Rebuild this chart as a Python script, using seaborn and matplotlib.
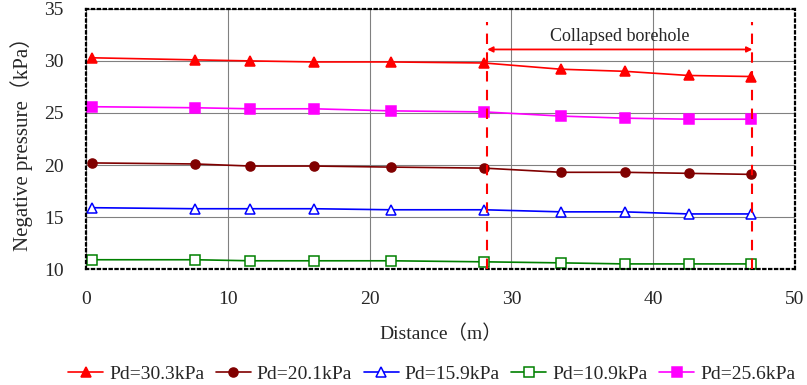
import pandas as pd
import numpy as np
import matplotlib
matplotlib.use('Agg')
import matplotlib.pyplot as plt
import seaborn as sns

distance = [0.4, 7.7, 11.6, 16.1, 21.5, 28.1, 33.5, 38.0, 42.5, 46.9]
pd303 = [30.3, 30.1, 30.0, 29.9, 29.9, 29.8, 29.2, 29.0, 28.6, 28.5]
pd201 = [20.2, 20.1, 19.9, 19.9, 19.8, 19.7, 19.3, 19.3, 19.2, 19.1]
pd159 = [15.9, 15.8, 15.8, 15.8, 15.7, 15.7, 15.5, 15.5, 15.3, 15.3]
pd109 = [10.9, 10.9, 10.8, 10.8, 10.8, 10.7, 10.6, 10.5, 10.5, 10.5]
pd256 = [25.6, 25.5, 25.4, 25.4, 25.2, 25.1, 24.7, 24.5, 24.4, 24.4]
labels = ['Pd=30.3kPa', 'Pd=20.1kPa', 'Pd=15.9kPa', 'Pd=10.9kPa', 'Pd=25.6kPa']
collapse_start, collapse_end = 28.3, 47.0

sns.set_style('white')
plt.rcParams['font.family'] = ['Liberation Serif', 'Noto Sans CJK SC']

df = pd.DataFrame({'Distance': distance * 5,
                   'Pressure': pd303 + pd201 + pd159 + pd109 + pd256,
                   'Series': np.repeat(labels, len(distance))})

styles = {
    'Pd=30.3kPa': dict(color='#FF0000', marker='^', mfc='#FF0000'),
    'Pd=20.1kPa': dict(color='#800000', marker='o', mfc='#800000'),
    'Pd=15.9kPa': dict(color='#0000FF', marker='^', mfc='white'),
    'Pd=10.9kPa': dict(color='#008000', marker='s', mfc='white'),
    'Pd=25.6kPa': dict(color='#FF00FF', marker='s', mfc='#FF00FF'),
}

fig, ax = plt.subplots(figsize=(8.07, 3.85), dpi=100)
plt.subplots_adjust(left=0.1066, right=0.985, top=0.977, bottom=0.301)

for lab in labels:
    st = styles[lab]
    sns.lineplot(data=df[df['Series'] == lab], x='Distance', y='Pressure', ax=ax,
                 color=st['color'], marker=st['marker'], markersize=6.5,
                 markerfacecolor=st['mfc'], markeredgecolor=st['color'],
                 markeredgewidth=1.1, linewidth=1.2, label=lab)

ax.vlines([collapse_start, collapse_end], 10, 33.7, colors='#FF0000',
          linestyles=(0, (5, 4)), linewidth=1.5, zorder=5)
ax.annotate('', xy=(collapse_start, 31.1), xytext=(collapse_end, 31.1),
            arrowprops=dict(arrowstyle='<|-|>', color='#FF0000', lw=1.3,
                            mutation_scale=8, shrinkA=0, shrinkB=0))
ax.text((collapse_start + collapse_end) / 2, 32.3, 'Collapsed borehole',
        ha='center', va='center', fontsize=13)

ax.set_xlim(0, 50)
ax.set_ylim(10, 35)
ax.set_xticks(range(0, 51, 10))
ax.set_yticks(range(10, 36, 5))
ax.grid(True, color='#808080', linewidth=0.8)
ax.tick_params(direction='in', length=4, labelsize=14, color='black')
ax.tick_params(axis='x', pad=16)
ax.tick_params(axis='y', pad=16)
for sp in ax.spines.values():
    sp.set_linestyle(':')
    sp.set_linewidth(1.6)
    sp.set_color('black')

ax.set_xlabel('Distance（m）', fontsize=14, labelpad=12)
ax.set_ylabel('Negative pressure（kPa）', fontsize=15, labelpad=8)

ax.legend(loc='lower center', bbox_to_anchor=(0.535, -0.04), bbox_transform=fig.transFigure,
          ncol=5, frameon=False, fontsize=14, handlelength=1.8, columnspacing=0.6,
          handletextpad=0.3)

plt.savefig('out.png', dpi=100)
